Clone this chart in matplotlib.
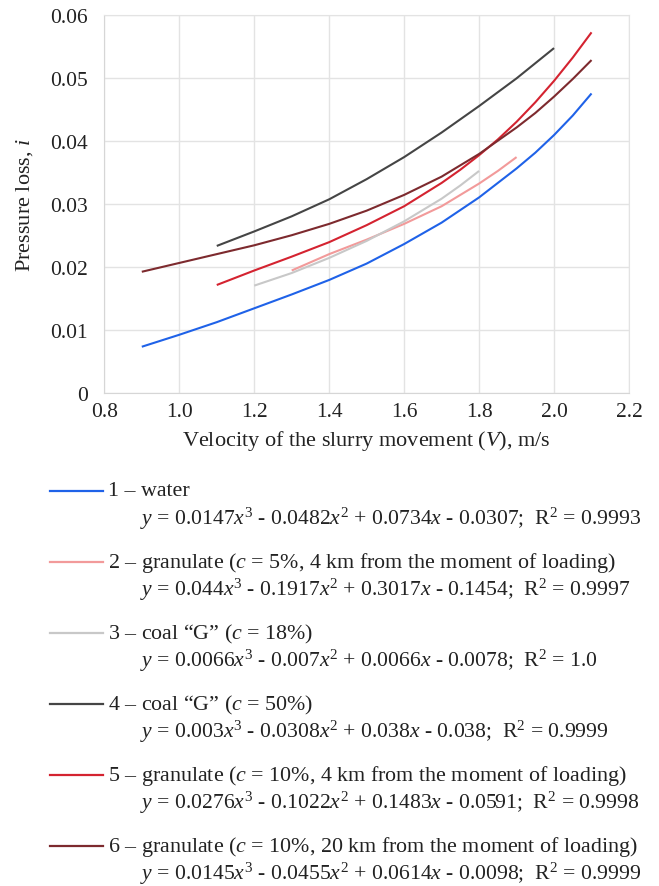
import numpy as np
import matplotlib
matplotlib.use('Agg')
import matplotlib.pyplot as plt
from matplotlib.lines import Line2D
from matplotlib.ticker import FuncFormatter

plt.rcParams['font.family'] = ['Liberation Serif', 'DejaVu Serif']
plt.rcParams['mathtext.fontset'] = 'custom'
plt.rcParams['mathtext.rm'] = 'Liberation Serif'
plt.rcParams['mathtext.it'] = 'Liberation Serif:italic'

# values
v_water = [0.9, 1.0, 1.1, 1.2, 1.3, 1.4, 1.5, 1.6, 1.7, 1.8, 1.9, 1.95, 2.0, 2.05, 2.1]
i_water = [0.0073, 0.0092, 0.0112, 0.0134, 0.0156, 0.0179, 0.0205, 0.0236, 0.0270, 0.0310, 0.0356, 0.0381, 0.0409, 0.0440, 0.0475]

v_gran5 = [1.3, 1.4, 1.5, 1.6, 1.7, 1.8, 1.85, 1.9]
i_gran5 = [0.0194, 0.0220, 0.0243, 0.0268, 0.0296, 0.0332, 0.0352, 0.0374]

v_coal18 = [1.2, 1.3, 1.4, 1.5, 1.6, 1.7, 1.75, 1.8]
i_coal18 = [0.0170, 0.0190, 0.0214, 0.0241, 0.0272, 0.0308, 0.0329, 0.0352]

v_coal50 = [1.1, 1.2, 1.3, 1.4, 1.5, 1.6, 1.7, 1.8, 1.9, 2.0]
i_coal50 = [0.0233, 0.0256, 0.0280, 0.0307, 0.0339, 0.0374, 0.0413, 0.0455, 0.0499, 0.0547]

v_gran10_4 = [1.1, 1.2, 1.3, 1.4, 1.5, 1.6, 1.7, 1.75, 1.8, 1.85, 1.9, 1.95, 2.0, 2.05, 2.1]
i_gran10_4 = [0.0171, 0.0194, 0.0216, 0.0239, 0.0266, 0.0296, 0.0333, 0.0354, 0.0377, 0.0402, 0.0430, 0.0461, 0.0495, 0.0532, 0.0572]

v_gran10_20 = [0.9, 1.0, 1.1, 1.2, 1.3, 1.4, 1.5, 1.6, 1.7, 1.8, 1.9, 1.95, 2.0, 2.05, 2.1]
i_gran10_20 = [0.0192, 0.0206, 0.0220, 0.0234, 0.0250, 0.0268, 0.0289, 0.0314, 0.0343, 0.0379, 0.0421, 0.0444, 0.0470, 0.0498, 0.0528]

titles = ['1 – water',
          '2 – granulate ($c$ = 5%, 4 km from the moment of loading)',
          '3 – coal “G” ($c$ = 18%)',
          '4 – coal “G” ($c$ = 50%)',
          '5 – granulate ($c$ = 10%, 4 km from the moment of loading)',
          '6 – granulate ($c$ = 10%, 20 km from the moment of loading)']
equations = [r'$y$ = 0.0147$x^3$ - 0.0482$x^2$ + 0.0734$x$ - 0.0307;  R$^2$ = 0.9993',
             r'$y$ = 0.044$x^3$ - 0.1917$x^2$ + 0.3017$x$ - 0.1454;  R$^2$ = 0.9997',
             r'$y$ = 0.0066$x^3$ - 0.007$x^2$ + 0.0066$x$ - 0.0078;  R$^2$ = 1.0',
             r'$y$ = 0.003$x^3$ - 0.0308$x^2$ + 0.038$x$ - 0.038;  R$^2$ = 0.9999',
             r'$y$ = 0.0276$x^3$ - 0.1022$x^2$ + 0.1483$x$ - 0.0591;  R$^2$ = 0.9998',
             r'$y$ = 0.0145$x^3$ - 0.0455$x^2$ + 0.0614$x$ - 0.0098;  R$^2$ = 0.9999']
colors = ['#1f62e8', '#f29a9a', '#c8c8c8', '#454545', '#d42330', '#7d2a2e']

series = [(v_water, i_water), (v_gran5, i_gran5), (v_coal18, i_coal18),
          (v_coal50, i_coal50), (v_gran10_4, i_gran10_4), (v_gran10_20, i_gran10_20)]

fig = plt.figure(figsize=(6.59, 8.87), dpi=100)
ax = fig.add_axes([0.1583, 0.5561, 0.7962, 0.4262])

for (v, i), c in zip(series, colors):
    ax.plot(v, i, color=c, lw=1.5, solid_capstyle='butt', solid_joinstyle='round')

ax.set_xlim(0.8, 2.2)
ax.set_ylim(0, 0.06)
ax.set_xticks(np.arange(0.8, 2.21, 0.2))
ax.set_yticks(np.arange(0, 0.061, 0.01))
ax.xaxis.set_major_formatter(FuncFormatter(lambda x, p: '%.1f' % x))
ax.yaxis.set_major_formatter(FuncFormatter(lambda y, p: '0' if abs(y) < 1e-9 else '%.2f' % y))
ax.tick_params(length=0, labelsize=15.5, colors='#222222')
ax.tick_params(axis='y', pad=12)
ax.tick_params(axis='x', pad=7)
ax.grid(True, color='#e3e3e3', lw=1.0)
for s in ax.spines.values():
    s.set_color('#e3e3e3')
ax.spines['bottom'].set_color('#d6d6d6')
ax.spines['left'].set_color('#d6d6d6')
ax.set_axisbelow(True)

ax.set_xlabel('Velocity of the slurry movement ($V$), m/s', fontsize=16, color='#222222', labelpad=5)
ax.set_ylabel('Pressure loss, $i$', fontsize=16, color='#222222', labelpad=11)

# legend drawn underneath the chart
H, W = 887.0, 659.0
for k in range(6):
    y0 = 492 + 71 * k
    fig.add_artist(Line2D([50 / W, 103 / W], [1 - y0 / H, 1 - y0 / H], color=colors[k], lw=1.6))
    fig.text(108 / W, 1 - y0 / H, titles[k], fontsize=15.8, va='center', ha='left', color='#222222')
    fig.text(140 / W, 1 - (y0 + 27) / H, equations[k], fontsize=15.6, va='center', ha='left', color='#222222')

fig.savefig('out.png', dpi=100)
